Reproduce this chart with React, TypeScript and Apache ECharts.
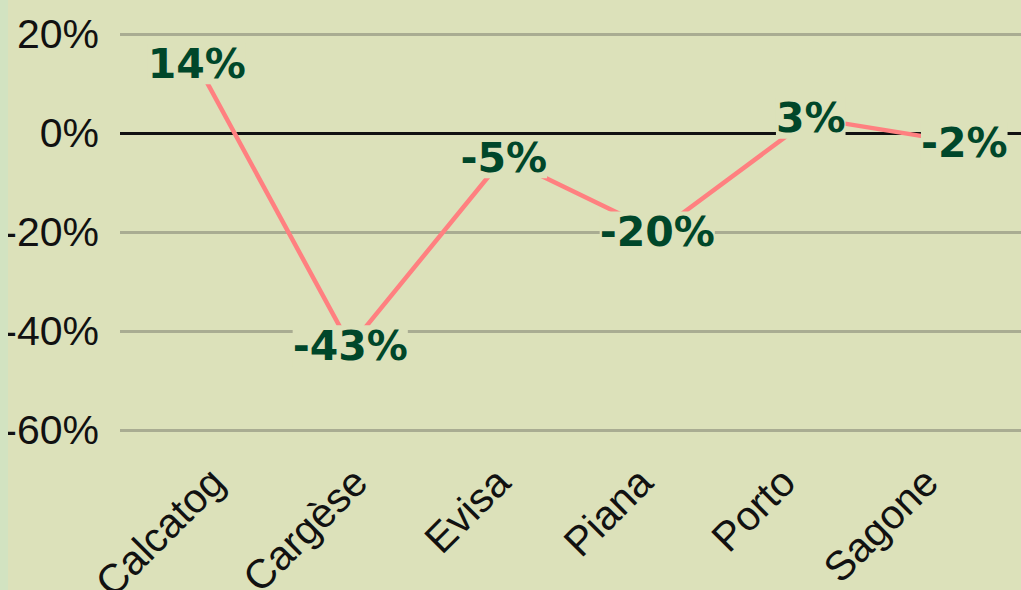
import React, { useEffect, useRef } from "react";
import * as echarts from "echarts";

const categories = ["Calcatog", "Cargèse", "Evisa", "Piana", "Porto", "Sagone"];
const values = [14, -43, -5, -20, 3, -2];
const yTicks = [-60, -40, -20, 0, 20];

const BG = "#DCE1BA";

export default function App() {
  const ref = useRef<HTMLDivElement>(null);
  useEffect(() => {
    if (!ref.current) return;
    const chart = echarts.init(ref.current, undefined, { renderer: "svg" });
    chart.setOption({
      animation: false,
      backgroundColor: BG,
      grid: [
        {
          left: 120,
          top: 34,
          width: 921,
          height: 396,
          containLabel: false,
          outerBoundsMode: "none",
        },
        {
          // label band: the source spaces its rotated category labels slightly tighter
          left: 146,
          top: 34,
          width: 856,
          height: 396,
          containLabel: false,
          outerBoundsMode: "none",
        },
      ],
      xAxis: [
        {
          type: "category",
          gridIndex: 0,
          data: categories,
          boundaryGap: true,
          axisLine: { show: false, onZero: false },
          axisTick: { show: false },
          axisLabel: { show: false },
        },
        {
          type: "category",
          gridIndex: 1,
          data: categories,
          boundaryGap: true,
          axisLine: { show: false, onZero: false },
          axisTick: { show: false },
          splitLine: { show: false },
          axisLabel: {
            interval: 0,
            rotate: 45,
            margin: 45,
            fontFamily: "Liberation Sans",
            fontSize: 41,
            color: "#111111",
          },
        },
      ],
      yAxis: [
        {
          type: "value",
          gridIndex: 0,
          min: yTicks[0],
          max: yTicks[yTicks.length - 1],
          interval: 20,
          axisLine: { show: false },
          axisTick: { show: false },
          axisLabel: {
            margin: 21,
            fontFamily: "Liberation Sans",
            fontSize: 41,
            color: "#111111",
            formatter: (v: number) => `${v}%`,
          },
          splitLine: {
            lineStyle: {
              width: 3,
              color: yTicks.map((t) => (t === 0 ? "#111111" : "#A9AC92")),
            },
          },
        },
        {
          type: "value",
          gridIndex: 1,
          min: yTicks[0],
          max: yTicks[yTicks.length - 1],
          interval: 20,
          show: false,
          splitLine: { show: false },
        },
      ],
      series: [
        {
          type: "line",
          xAxisIndex: 0,
          yAxisIndex: 0,
          data: values,
          symbol: "circle",
          symbolSize: 1,
          showSymbol: true,
          itemStyle: { color: "#FF8080" },
          lineStyle: { color: "#FF8080", width: 4.5 },
          label: {
            show: true,
            position: "inside",
            formatter: (p: any) => `${p.value}%`,
            fontFamily: "DejaVu Sans",
            fontWeight: "bold",
            fontSize: 41,
            color: "#00472A",
            backgroundColor: BG,
            padding: [0, 0, 0, 0],
          },
        },
      ],
    });
    return () => chart.dispose();
  }, []);
  return (
    <div
      style={{
        position: "fixed",
        left: 0,
        top: 0,
        width: 1021,
        height: 590,
        overflow: "hidden",
        background: BG,
      }}
    >
      <div ref={ref} style={{ position: "absolute", left: 0, top: 0, width: 1100, height: 590 }} />
      <div
        style={{
          position: "absolute",
          left: 0,
          top: 0,
          width: 8,
          height: 590,
          background: "#D2E3C1",
        }}
      />
    </div>
  );
}
